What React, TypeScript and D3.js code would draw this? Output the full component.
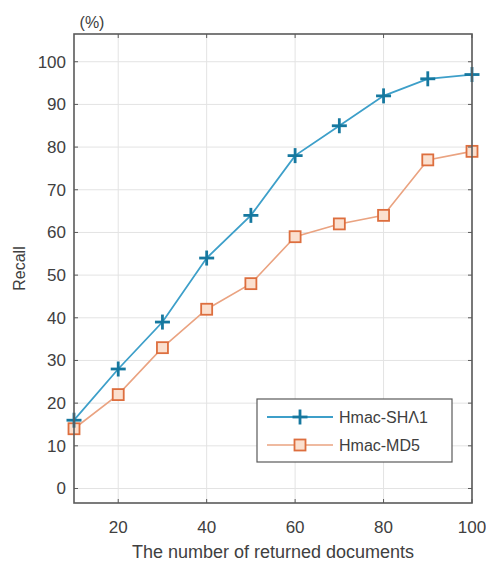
import React from 'react'
import * as d3 from 'd3'

const docs = [10, 20, 30, 40, 50, 60, 70, 80, 90, 100]
const sha1 = [16, 28, 39, 54, 64, 78, 85, 92, 96, 97]
const md5 = [14, 22, 33, 42, 48, 59, 62, 64, 77, 79]
const xTicks = [20, 40, 60, 80, 100]
const yTicks = [0, 10, 20, 30, 40, 50, 60, 70, 80, 90, 100]
const seriesNames = ['Hmac-SHΛ1', 'Hmac-MD5']

const W = 486
const H = 563
const left = 74
const right = 472
const top = 34
const bottom = 503

const blueLine = '#3d9fc9'
const blueMark = '#16789f'
const orangeLine = '#eaa381'
const orangeMark = '#dd6e3e'
const orangeFill = '#fbe0cf'
const axisColor = '#5a5a5a'
const textColor = '#404040'
const font = 'Liberation Sans, Arial, sans-serif'

const Plus = ({ x, y, s = 7.5 }: { x: number; y: number; s?: number }) => (
	<g stroke={blueMark} strokeWidth={2.8}>
		<line x1={x - s} x2={x + s} y1={y} y2={y} />
		<line x1={x} x2={x} y1={y - s} y2={y + s} />
	</g>
)

const Square = ({ x, y, s = 5.5 }: { x: number; y: number; s?: number }) => (
	<rect x={x - s} y={y - s} width={2 * s} height={2 * s}
		fill={orangeFill} stroke={orangeMark} strokeWidth={1.8} />
)

export default function App() {
	const xScale = d3.scaleLinear().domain([10, 100]).range([left, right])
	const yScale = d3.scaleLinear().domain([-3.4, 106.5]).range([bottom, top])

	const line = d3.line<number>()
		.x((d, i) => xScale(docs[i]))
		.y(d => yScale(d))

	// legend geometry
	const lx0 = 257, lx1 = 452, ly0 = 399, ly1 = 462
	const rows = [417, 445]

	return (
		<svg width={W} height={H} style={{ position: 'absolute', left: 0, top: 0, background: 'white' }}>
			<rect x={0} y={0} width={W} height={H} fill="white" />

			{/* grid */}
			<g stroke="#e3e3e3" strokeWidth={1}>
				{yTicks.map(t => (
					<line key={'gy' + t} x1={left} x2={right} y1={yScale(t)} y2={yScale(t)} />
				))}
				{xTicks.map(t => (
					<line key={'gx' + t} x1={xScale(t)} x2={xScale(t)} y1={top} y2={bottom} />
				))}
			</g>

			{/* series */}
			<path d={line(sha1) || ''} fill="none" stroke={blueLine} strokeWidth={1.8} />
			<path d={line(md5) || ''} fill="none" stroke={orangeLine} strokeWidth={1.6} />
			{md5.map((v, i) => <Square key={'m' + i} x={xScale(docs[i])} y={yScale(v)} />)}
			{sha1.map((v, i) => <Plus key={'s' + i} x={xScale(docs[i])} y={yScale(v)} />)}

			{/* box and ticks */}
			<rect x={left} y={top} width={right - left} height={bottom - top}
				fill="none" stroke={axisColor} strokeWidth={1.6} />
			<g stroke={axisColor} strokeWidth={1}>
				{yTicks.map(t => (
					<g key={'ty' + t}>
						<line x1={left} x2={left + 4} y1={yScale(t)} y2={yScale(t)} />
						<line x1={right} x2={right - 4} y1={yScale(t)} y2={yScale(t)} />
					</g>
				))}
				{xTicks.map(t => (
					<g key={'tx' + t}>
						<line x1={xScale(t)} x2={xScale(t)} y1={bottom} y2={bottom - 4} />
						<line x1={xScale(t)} x2={xScale(t)} y1={top} y2={top + 4} />
					</g>
				))}
			</g>

			{/* tick labels */}
			<g fill={textColor} fontFamily={font} fontSize={17}>
				{yTicks.map(t => (
					<text key={'ly' + t} x={left - 8} y={yScale(t)} dy="0.35em" textAnchor="end">{t}</text>
				))}
				{xTicks.map(t => (
					<text key={'lx' + t} x={xScale(t)} y={527} dy="0.35em" textAnchor="middle">{t}</text>
				))}
			</g>

			<text x={92} y={22} dy="0.35em" textAnchor="middle" fill={textColor} fontFamily={font} fontSize={16}>(%)</text>
			<text x={273} y={552} dy="0.35em" textAnchor="middle" fill={textColor} fontFamily={font} fontSize={18}>
				The number of returned documents
			</text>
			<text transform={`translate(19, ${(top + bottom) / 2}) rotate(-90)`} dy="0.35em" textAnchor="middle"
				fill={textColor} fontFamily={font} fontSize={16}>Recall</text>

			{/* legend */}
			<rect x={lx0} y={ly0} width={lx1 - lx0} height={ly1 - ly0} fill="white" stroke={axisColor} strokeWidth={1.2} />
			<line x1={267} x2={333} y1={rows[0]} y2={rows[0]} stroke={blueLine} strokeWidth={1.8} />
			<Plus x={300} y={rows[0]} />
			<line x1={267} x2={333} y1={rows[1]} y2={rows[1]} stroke={orangeLine} strokeWidth={1.6} />
			<Square x={300} y={rows[1]} />
			{seriesNames.map((n, i) => (
				<text key={n} x={339} y={rows[i]} dy="0.35em" fill={textColor} fontFamily={font} fontSize={16}>{n}</text>
			))}
		</svg>
	)
}
